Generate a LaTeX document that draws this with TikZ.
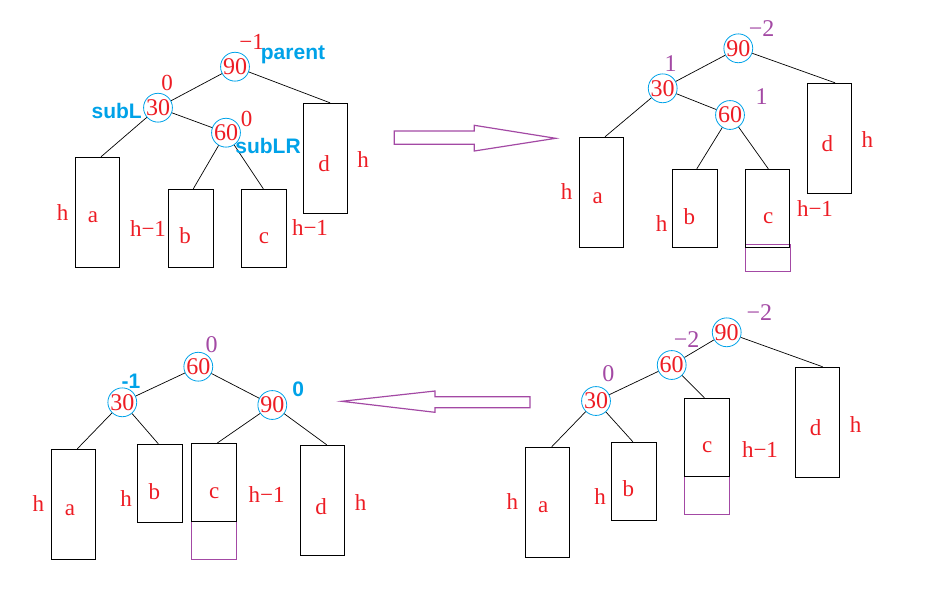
\documentclass[tikz,border=0pt]{standalone}
\usepackage{fontspec}
\setmainfont{Liberation Serif}
\newfontfamily\blufont{Liberation Sans}
\definecolor{cred}{RGB}{237,28,36}
\definecolor{cblue}{RGB}{0,162,232}
\definecolor{cpurple}{RGB}{163,73,164}
\begin{document}
\begin{tikzpicture}[x=1pt,y=-1pt,
  cnode/.style={circle, draw=cblue, line width=0.8pt, minimum size=28pt, inner sep=0pt, text=cred, font=\fontsize{24}{24}\selectfont},
  box/.style={draw=black, line width=1pt, minimum width=44.5pt, inner sep=0pt},
  tall/.style={box, minimum height=110pt},
  short/.style={box, minimum height=78pt},
  ext/.style={draw=cpurple, line width=1pt, minimum width=45pt, inner sep=0pt},
  lbl/.style={text=cred, font=\fontsize{23}{23}\selectfont, inner sep=0pt},
  bl/.style={text=cblue, font=\blufont\bfseries\fontsize{21}{21}\selectfont, inner sep=0pt},
  pl/.style={text=cpurple, font=\fontsize{24}{24}\selectfont, inner sep=0pt},
  edge/.style={draw=black, line width=0.7pt},
  bigarrow/.style={draw=cpurple, line width=1.2pt, line join=miter}
]
\useasboundingbox (0,0) rectangle (952,611);

% ---------------- Top-left panel ----------------
\node[tall]  (a1) at (97.5,212.3) {};
\node[short] (b1) at (190.8,228.3) {};
\node[short] (c1) at (264,228.3) {};
\node[tall]  (d1) at (325.3,158.3) {};
\node[cnode] (p1) at (235,66.7) {90};
\node[cnode] (s1) at (158,107.7) {30};
\node[cnode] (r1) at (226,132.7) {60};
\draw[edge] (p1) -- (s1);
\draw[edge] (p1) -- ([xshift=4.7pt]d1.north);
\draw[edge] (s1) -- (r1);
\draw[edge] (s1) -- ([xshift=3.5pt]a1.north);
\draw[edge] (r1) -- ([xshift=2.5pt]b1.north);
\draw[edge] (r1) -- ([xshift=-0.7pt]c1.north);
\node[lbl] (tl1) at (251.7,41.7) {−1};
\node[bl]  (tl2) at (293,55) {parent};
\node[lbl] (tl3) at (167,83) {0};
\node[bl]  (tl4) at (116.7,111) {subL};
\node[lbl] (tl5) at (246.7,119) {0};
\node[bl]  (tl6) at (268,146) {subLR};
\node[lbl] (tl7) at (93,217) {a};
\node[lbl] (tl8) at (62.7,212.7) {h};
\node[lbl] (tl9) at (148,229) {h−1};
\node[lbl] (tl10) at (185,236) {b};
\node[lbl] (tl11) at (264,238) {c};
\node[lbl] (tl12) at (310,228) {h−1};
\node[lbl] (tl13) at (324,164) {d};
\node[lbl] (tl14) at (363,160) {h};

% ---------------- Top-right panel ----------------
\node[ext, minimum height=26.7pt] (e2) at (767.7,257.7) {};
\node[tall]  (a2) at (601.3,192.3) {};
\node[short] (b2) at (694.8,208.3) {};
\node[short] (c2) at (767.7,208.3) {};
\node[tall]  (d2) at (829.5,138.3) {};
\node[cnode] (p2) at (738.3,48.3) {90};
\node[cnode] (s2) at (662.7,88.3) {30};
\node[cnode] (r2) at (730,115) {60};
\draw[edge] (p2) -- (s2);
\draw[edge] (p2) -- ([xshift=5.5pt]d2.north);
\draw[edge] (s2) -- (r2);
\draw[edge] (s2) -- ([xshift=3.7pt]a2.north);
\draw[edge] (r2) -- ([xshift=2pt]b2.north);
\draw[edge] (r2) -- ([xshift=0.6pt]c2.north);
\node[pl]  (tr1) at (761.7,28.3) {−2};
\node[pl]  (tr2) at (670.7,63.3) {1};
\node[pl]  (tr3) at (761.7,96.7) {1};
\node[lbl] (tr4) at (597.7,198.3) {a};
\node[lbl] (tr5) at (566.7,191.7) {h};
\node[lbl] (tr6) at (689.3,216.7) {b};
\node[lbl] (tr7) at (661.7,223.3) {h};
\node[lbl] (tr8) at (768.3,218.3) {c};
\node[lbl] (tr9) at (815,208.3) {h−1};
\node[lbl] (tr10) at (827.3,143.3) {d};
\node[lbl] (tr11) at (867.3,140) {h};

% ---------------- Bottom-right panel ----------------
\node[ext, minimum height=38pt] (e4) at (706.8,495) {};
\node[tall]  (a4) at (547.5,502.3) {};
\node[short] (b4) at (633.8,481.2) {};
\node[short] (c4) at (706.8,437.2) {};
\node[tall]  (d4) at (817.3,422.3) {};
\node[cnode] (p4) at (726.7,332.3) {90};
\node[cnode] (r4) at (671.7,365) {60};
\node[cnode] (s4) at (596,401) {30};
\draw[edge] (p4) -- (r4);
\draw[edge] (p4) -- ([xshift=5.4pt]d4.north);
\draw[edge] (r4) -- (s4);
\draw[edge] (r4) -- ([xshift=-2.5pt]c4.north);
\draw[edge] (s4) -- ([xshift=4.2pt]a4.north);
\draw[edge] (s4) -- ([xshift=-1pt]b4.north);
\node[pl]  (br1) at (759.3,312.7) {−2};
\node[pl]  (br2) at (686.7,340) {−2};
\node[pl]  (br3) at (608.3,374) {0};
\node[lbl] (br4) at (543.3,507.3) {a};
\node[lbl] (br5) at (512.3,501.7) {h};
\node[lbl] (br6) at (628.3,489) {b};
\node[lbl] (br7) at (600,496.7) {h};
\node[lbl] (br8) at (707.3,447.3) {c};
\node[lbl] (br9) at (760,450) {h−1};
\node[lbl] (br10) at (815.7,427.3) {d};
\node[lbl] (br11) at (855.7,425) {h};

% ---------------- Bottom-left panel ----------------
\node[ext, minimum height=38.3pt] (e3) at (213.8,540.8) {};
\node[tall]  (a3) at (73.5,504.3) {};
\node[short] (b3) at (159.8,483.3) {};
\node[short] (c3) at (213.8,482.5) {};
\node[tall]  (d3) at (322.5,500.3) {};
\node[cnode] (r3) at (198.3,366.7) {60};
\node[cnode] (s3) at (122.3,402.3) {30};
\node[cnode] (p3) at (272.3,405) {90};
\draw[edge] (r3) -- (s3);
\draw[edge] (r3) -- (p3);
\draw[edge] (s3) -- ([xshift=3.8pt]a3.north);
\draw[edge] (s3) -- ([xshift=-1.5pt]b3.north);
\draw[edge] (p3) -- ([xshift=3.5pt]c3.north);
\draw[edge] (p3) -- ([xshift=4.2pt]d3.north);
\node[pl]  (bl1) at (211.7,345) {0};
\node[bl]  (bl2) at (131,381.7) {-1};
\node[bl]  (bl3) at (298.3,389.3) {0};
\node[lbl] (bl4) at (70,510) {a};
\node[lbl] (bl5) at (38.3,503.3) {h};
\node[lbl] (bl6) at (154.3,491.7) {b};
\node[lbl] (bl7) at (126,498.3) {h};
\node[lbl] (bl8) at (214.3,492.7) {c};
\node[lbl] (bl9) at (266.7,495) {h−1};
\node[lbl] (bl10) at (321,506.7) {d};
\node[lbl] (bl11) at (360.7,502.7) {h};

% ---------------- Big hollow arrows ----------------
\draw[bigarrow] (394.3,131) -- (474.3,131) -- (474.3,125.3) -- (555.7,138.3)
  -- (474.3,151) -- (474.3,144.3) -- (394.3,144.3) -- cycle;
\draw[bigarrow] (530,396.7) -- (435,396.7) -- (435,391) -- (341.7,401.3)
  -- (435,412.3) -- (435,407.7) -- (530,407.7) -- cycle;
\end{tikzpicture}
\end{document}
